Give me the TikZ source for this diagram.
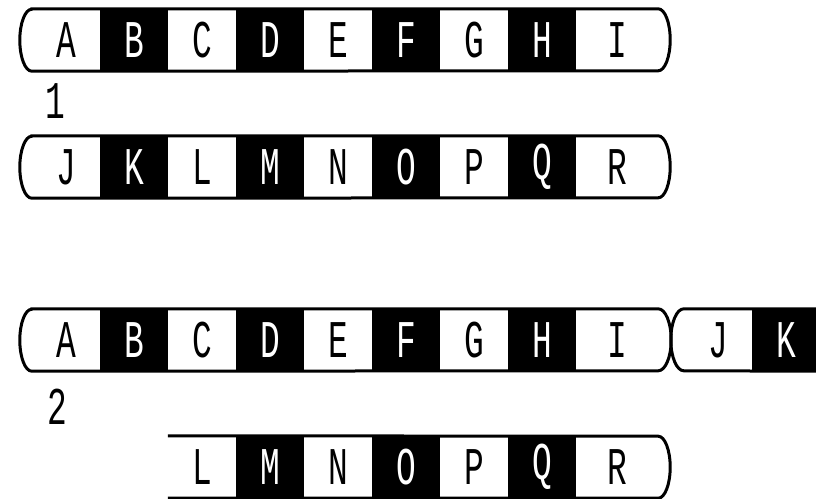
\documentclass[tikz,border=0pt]{standalone}
\usepackage{fontspec}
\newfontfamily\cellfont[FakeStretch=0.62]{Liberation Mono}
\usetikzlibrary{positioning}

\begin{document}
\begin{tikzpicture}[
    x=1pt, y=-1pt, node distance=68pt,
    white_cell/.style={rectangle, fill=white, text=black, minimum width=68pt, minimum height=62pt, inner sep=0pt, font=\cellfont\fontsize{53}{53}\selectfont},
    black_cell/.style={white_cell, fill=black, text=white},
    end_cell/.style={white_cell, minimum width=82pt, xshift=7pt},
    strip_line/.style={line width=3pt, draw=black},
    num_lbl/.style={inner sep=0pt, text=black, font=\cellfont\fontsize{53}{53}\selectfont}
]
    % Canvas
    \fill[white] (0,0) rectangle (816,498);
    \clip (0,0) rectangle (816,498);

    % Case 1: two separate strips
    \node[white_cell] (A1) at (66,40) {A};
    \node[black_cell, right of=A1] (B1) {B};
    \node[white_cell, right of=B1] (C1) {C};
    \node[black_cell, right of=C1] (D1) {D};
    \node[white_cell, right of=D1] (E1) {E};
    \node[black_cell, right of=E1] (F1) {F};
    \node[white_cell, right of=F1] (G1) {G};
    \node[black_cell, right of=G1] (H1) {H};
    \node[end_cell, right of=H1] (I1) {I};

    \node[num_lbl] (one) at (55,101) {1};

    \node[white_cell] (J2) at (66,167) {J};
    \node[black_cell, right of=J2] (K2) {K};
    \node[white_cell, right of=K2] (L2) {L};
    \node[black_cell, right of=L2] (M2) {M};
    \node[white_cell, right of=M2] (N2) {N};
    \node[black_cell, right of=N2] (O2) {O};
    \node[white_cell, right of=O2] (P2) {P};
    \node[black_cell, right of=P2] (Q2) {Q};
    \node[end_cell, right of=Q2] (R2) {R};

    % Case 2: J and K moved up
    \node[white_cell] (A3) at (66,340) {A};
    \node[black_cell, right of=A3] (B3) {B};
    \node[white_cell, right of=B3] (C3) {C};
    \node[black_cell, right of=C3] (D3) {D};
    \node[white_cell, right of=D3] (E3) {E};
    \node[black_cell, right of=E3] (F3) {F};
    \node[white_cell, right of=F3] (G3) {G};
    \node[black_cell, right of=G3] (H3) {H};
    \node[end_cell, right of=H3] (I3) {I};
    \node[white_cell] (J3) at (718,340) {J};
    \node[black_cell, right of=J3] (K3) {K};

    \node[num_lbl] (two) at (57,407) {2};

    \node[white_cell] (L4) at (202,467) {L};
    \node[black_cell, right of=L4] (M4) {M};
    \node[white_cell, right of=M4] (N4) {N};
    \node[black_cell, right of=N4] (O4) {O};
    \node[white_cell, right of=O4] (P4) {P};
    \node[black_cell, right of=P4] (Q4) {Q};
    \node[end_cell, right of=Q4] (R4) {R};

    % Outlines
    \draw[strip_line] (A1.north west) -- (I1.north east)
        arc[start angle=-90, end angle=90, x radius=12, y radius=31] -- (A1.south west)
        arc[start angle=90, end angle=270, x radius=12, y radius=31] -- cycle;
    \draw[strip_line] (J2.north west) -- (R2.north east)
        arc[start angle=-90, end angle=90, x radius=12, y radius=31] -- (J2.south west)
        arc[start angle=90, end angle=270, x radius=12, y radius=31] -- cycle;
    \draw[strip_line] (A3.north west) -- (I3.north east)
        arc[start angle=-90, end angle=90, x radius=13, y radius=31] -- (A3.south west)
        arc[start angle=90, end angle=270, x radius=12, y radius=31] -- cycle;
    \draw[strip_line] (K3.north east) -- (J3.north west)
        arc[start angle=-90, end angle=-270, x radius=13, y radius=31] -- (K3.south east);
    \draw[strip_line] (L4.south west) -- (R4.south east)
        arc[start angle=90, end angle=-90, x radius=12, y radius=31] -- (L4.north west);
\end{tikzpicture}
\end{document}
